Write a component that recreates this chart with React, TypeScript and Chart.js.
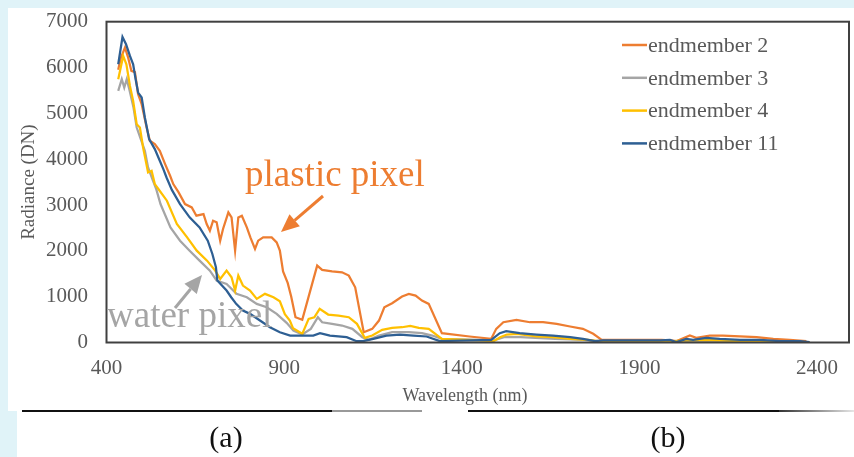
import React, { useEffect, useRef } from 'react';
import { Chart, registerables } from 'chart.js';

Chart.register(...registerables);

const seriesNames = ['endmember 2', 'endmember 3', 'endmember 4', 'endmember 11'];
const seriesColors = ['#ED7D31', '#A5A5A5', '#FFC000', '#2E5F93'];

const xTickValues = [400, 900, 1400, 1900, 2400];
const yTickValues = [0, 1000, 2000, 3000, 4000, 5000, 6000, 7000];

// endmember 2 (orange, plastic pixel)
const wl2 = [433, 440, 452, 461, 470, 480, 489, 499, 513, 522, 536, 550, 565, 579, 588, 603, 621, 640, 653, 673, 682, 691, 700, 710, 720, 728, 743, 752, 762, 771, 781, 795, 805, 818, 827, 841, 865, 879, 888, 897, 910, 920, 932, 951, 993, 1007, 1035, 1063, 1082, 1100, 1124, 1148, 1167, 1182, 1204, 1232, 1251, 1270, 1288, 1307, 1344, 1422, 1483, 1497, 1517, 1554, 1592, 1629, 1667, 1705, 1741, 1770, 1794, 1962, 1986, 2005, 2042, 2060, 2098, 2135, 2183, 2230, 2277, 2323, 2370];
const rad2 = [5950, 6200, 6434, 6216, 5926, 5900, 5418, 5200, 4691, 4401, 4329, 4183, 3893, 3638, 3457, 3275, 3021, 2948, 2767, 2803, 2586, 2440, 2658, 2622, 2222, 2476, 2839, 2730, 2004, 2730, 2767, 2512, 2294, 2041, 2222, 2294, 2294, 2185, 2004, 1550, 1300, 1000, 551, 494, 1678, 1583, 1554, 1532, 1460, 1205, 224, 298, 479, 769, 856, 1002, 1061, 1024, 915, 843, 203, 131, 80, 298, 442, 494, 442, 442, 407, 349, 298, 189, 58, 58, 44, 30, 152, 102, 152, 152, 131, 116, 80, 58, 29];

// endmember 3 (grey, water pixel)
const wl3 = [433, 443, 450, 457, 465, 476, 485, 508, 517, 531, 540, 552, 580, 607, 634, 662, 691, 710, 738, 766, 795, 823, 851, 879, 907, 926, 951, 975, 995, 1007, 1035, 1063, 1092, 1120, 1138, 1167, 1204, 1251, 1288, 1317, 1344, 1450, 1490, 1519, 1566, 1663, 1746, 1784, 1960, 2030, 2100, 2200, 2300, 2379];
const rad3 = [5490, 5745, 5563, 5745, 5500, 5127, 4691, 4183, 3819, 3529, 3347, 3021, 2512, 2222, 2004, 1786, 1568, 1351, 1278, 1061, 988, 843, 769, 625, 430, 261, 174, 298, 551, 442, 407, 370, 298, 116, 58, 152, 224, 224, 203, 152, 80, 58, 44, 116, 116, 80, 58, 22, 10, 30, 40, 30, 20, 5];

// endmember 4 (yellow)
const wl4 = [433, 447, 456, 466, 475, 485, 494, 503, 517, 527, 536, 546, 570, 598, 627, 654, 683, 706, 720, 738, 752, 762, 771, 784, 804, 823, 846, 870, 888, 902, 916, 925, 951, 969, 985, 1000, 1024, 1053, 1082, 1105, 1127, 1148, 1176, 1204, 1232, 1255, 1279, 1307, 1344, 1430, 1490, 1508, 1527, 1556, 1610, 1657, 1705, 1756, 1784, 1962, 2032, 2088, 2183, 2379];
const rad4 = [5745, 6253, 6072, 5599, 5272, 4764, 4691, 4255, 3710, 3747, 3457, 3350, 3094, 2586, 2294, 2004, 1786, 1568, 1387, 1568, 1423, 1133, 1460, 1242, 1133, 952, 1061, 988, 900, 620, 480, 310, 189, 515, 551, 733, 610, 588, 551, 407, 102, 152, 276, 320, 333, 363, 320, 298, 80, 50, 29, 116, 174, 189, 131, 116, 80, 58, 29, 15, 44, 58, 29, 7];

// endmember 11 (blue)
const wl11 = [433, 445, 455, 466, 475, 482, 489, 499, 508, 520, 536, 550, 560, 569, 584, 607, 634, 662, 685, 698, 708, 712, 738, 751, 765, 784, 804, 832, 860, 888, 917, 945, 982, 1001, 1029, 1076, 1104, 1122, 1151, 1188, 1226, 1264, 1301, 1338, 1483, 1507, 1525, 1563, 1610, 1657, 1705, 1741, 1775, 1798, 1960, 1986, 2004, 2032, 2051, 2088, 2126, 2183, 2239, 2296, 2352, 2379];
const rad11 = [6072, 6667, 6507, 6253, 6072, 5745, 5454, 5345, 4909, 4437, 4220, 3965, 3784, 3601, 3330, 3021, 2730, 2512, 2222, 1932, 1641, 1351, 1133, 988, 843, 697, 625, 479, 333, 224, 152, 152, 152, 203, 152, 116, 29, 29, 80, 152, 174, 152, 131, 29, 58, 203, 247, 203, 174, 152, 116, 80, 29, 44, 44, 58, 7, 80, 58, 102, 80, 58, 58, 29, 29, 7];

const FONT = "'Liberation Serif', 'Times New Roman', serif";
const TEXT = '#595959';

function arrow(ctx: CanvasRenderingContext2D, x1: number, y1: number, x2: number, y2: number, color: string) {
  const ang = Math.atan2(y2 - y1, x2 - x1);
  const hl = 18, hw = 8;
  const bx = x2 - hl * Math.cos(ang), by = y2 - hl * Math.sin(ang);
  ctx.save();
  ctx.strokeStyle = color;
  ctx.fillStyle = color;
  ctx.lineWidth = 3;
  ctx.beginPath();
  ctx.moveTo(x1, y1);
  ctx.lineTo(bx, by);
  ctx.stroke();
  ctx.beginPath();
  ctx.moveTo(x2, y2);
  ctx.lineTo(bx + hw * Math.sin(ang), by - hw * Math.cos(ang));
  ctx.lineTo(bx - hw * Math.sin(ang), by + hw * Math.cos(ang));
  ctx.closePath();
  ctx.fill();
  ctx.restore();
}

const overlay = {
  id: 'overlay',
  beforeDraw(chart: any) {
    const ctx = chart.ctx;
    ctx.save();
    ctx.fillStyle = '#E0F3F8';
    ctx.fillRect(0, 0, 854, 457);
    ctx.fillStyle = '#FFFFFF';
    ctx.fillRect(8, 8, 846, 403);
    ctx.fillRect(17, 410, 837, 47);
    ctx.restore();
  },
  afterDraw(chart: any) {
    const ctx: CanvasRenderingContext2D = chart.ctx;
    const { left, right, top, bottom } = chart.chartArea;
    const xs = chart.scales.x;
    const ys = chart.scales.y;
    ctx.save();
    // plot border
    ctx.strokeStyle = '#404040';
    ctx.lineWidth = 2;
    ctx.strokeRect(left, top, right - left, bottom - top);

    // tick labels
    ctx.fillStyle = TEXT;
    ctx.font = `21px ${FONT}`;
    ctx.textAlign = 'right';
    ctx.textBaseline = 'middle';
    yTickValues.forEach((v) => ctx.fillText(String(v), 88, ys.getPixelForValue(v)));
    ctx.textAlign = 'center';
    xTickValues.forEach((v) => ctx.fillText(String(v), xs.getPixelForValue(v), 368));

    // axis titles
    ctx.font = `18px ${FONT}`;
    ctx.fillText('Wavelength (nm)', 465, 396);
    ctx.save();
    ctx.translate(29, (top + bottom) / 2);
    ctx.rotate(-Math.PI / 2);
    ctx.font = `19px ${FONT}`;
    ctx.fillText('Radiance (DN)', 0, 0);
    ctx.restore();

    // legend
    ctx.font = `22px ${FONT}`;
    ctx.textAlign = 'left';
    seriesNames.forEach((name, i) => {
      const y = 45 + i * 32.8;
      ctx.strokeStyle = seriesColors[i];
      ctx.lineWidth = 2.5;
      ctx.beginPath();
      ctx.moveTo(622, y);
      ctx.lineTo(647, y);
      ctx.stroke();
      ctx.fillStyle = TEXT;
      ctx.fillText(name, 648, y + 1);
    });

    // annotations
    ctx.textBaseline = 'alphabetic';
    ctx.font = `37px ${FONT}`;
    ctx.fillStyle = '#ED7D31';
    ctx.fillText('plastic pixel', 245, 186);
    ctx.fillStyle = '#A5A5A5';
    ctx.fillText('water pixel', 107, 327);
    arrow(ctx, 323, 196, 281, 232, '#ED7D31');
    arrow(ctx, 175, 308, 202, 275, '#A5A5A5');

    // bottom separator line
    ctx.lineWidth = 2;
    ctx.strokeStyle = '#111111';
    ctx.beginPath();
    ctx.moveTo(22, 411);
    ctx.lineTo(332, 411);
    ctx.stroke();
    ctx.strokeStyle = '#777777';
    ctx.lineWidth = 1.5;
    ctx.beginPath();
    ctx.moveTo(332, 411);
    ctx.lineTo(422, 411);
    ctx.stroke();
    ctx.strokeStyle = '#111111';
    ctx.lineWidth = 2;
    ctx.beginPath();
    ctx.moveTo(468, 411);
    ctx.lineTo(779, 411);
    ctx.stroke();
    const g = ctx.createLinearGradient(779, 0, 854, 0);
    g.addColorStop(0, '#333333');
    g.addColorStop(1, '#e6e6e6');
    ctx.strokeStyle = g;
    ctx.beginPath();
    ctx.moveTo(779, 411);
    ctx.lineTo(854, 411);
    ctx.stroke();

    // panel labels
    ctx.fillStyle = '#111111';
    ctx.font = `30px ${FONT}`;
    ctx.textAlign = 'center';
    ctx.fillText('(a)', 226, 447);
    ctx.fillText('(b)', 668, 447);
    ctx.restore();
  },
};

function pts(xs: number[], ys: number[]) {
  return xs.map((x, i) => ({ x, y: ys[i] }));
}

export default function App() {
  const ref = useRef<HTMLCanvasElement | null>(null);
  useEffect(() => {
    if (!ref.current) return;
    const data = [pts(wl2, rad2), pts(wl3, rad3), pts(wl4, rad4), pts(wl11, rad11)];
    const chart = new Chart(ref.current, {
      type: 'line',
      data: {
        datasets: data.map((d, i) => ({
          label: seriesNames[i],
          data: d,
          borderColor: seriesColors[i],
          backgroundColor: seriesColors[i],
          borderWidth: 2.25,
          pointRadius: 0,
          tension: 0,
          fill: false,
          order: 4 - i,
        })),
      },
      options: {
        animation: false,
        responsive: false,
        devicePixelRatio: 1,
        layout: { padding: { left: 106.5, top: 21.7, right: 5, bottom: 114.5 } },
        plugins: { legend: { display: false }, tooltip: { enabled: false } },
        scales: {
          x: { type: 'linear', min: 400, max: 2490, display: false },
          y: { type: 'linear', min: 0, max: 7000, display: false },
        },
      },
      plugins: [overlay],
    });
    return () => chart.destroy();
  }, []);
  return (
    <div style={{ position: 'absolute', left: 0, top: 0, width: 854, height: 457 }}>
      <canvas ref={ref} width={854} height={457} style={{ width: 854, height: 457, display: 'block' }} />
    </div>
  );
}
